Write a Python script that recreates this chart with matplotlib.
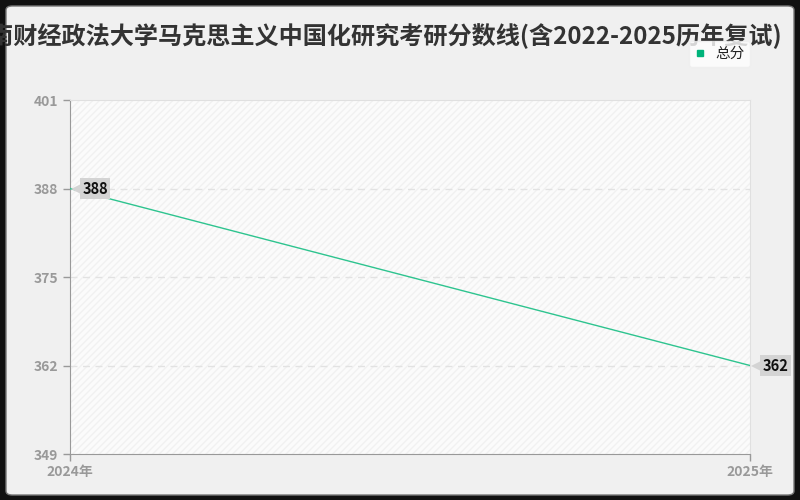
import matplotlib
matplotlib.use('Agg')
import matplotlib.pyplot as plt
from matplotlib.patches import FancyBboxPatch, Rectangle
from matplotlib.lines import Line2D

plt.rcParams['font.family'] = ['Noto Sans CJK SC', 'DejaVu Sans']

title = '中南财经政法大学马克思主义中国化研究考研分数线(含2022-2025历年复试)'
years = ['2024年', '2025年']
scores = [388, 362]
yticks = [349, 362, 375, 388, 401]
series_name = '总分'

W, H = 800, 500
fig = plt.figure(figsize=(8, 5), dpi=100, facecolor='#111111')

# rounded panel behind everything
panel = FancyBboxPatch((6 / W, 5 / H), 788 / W, 489 / H,
                       boxstyle='round,pad=0,rounding_size=0.008',
                       transform=fig.transFigure, facecolor='#f0f0f0',
                       edgecolor='#777777', linewidth=1, zorder=-5)
fig.patches.append(panel)

fig.text(782 / W, 1 - 36 / H, title, ha='right', va='center', fontsize=17.4,
         fontweight='bold', color='#333333', zorder=-1)

ax = fig.add_axes([70 / W, 1 - 454 / H, 680 / W, 354 / H])
ax.set_facecolor('#fbfbfb')
ax.add_patch(Rectangle((0, 0), 1, 1, transform=ax.transAxes, facecolor='none',
                       edgecolor='#f1f1f1', hatch='/////', linewidth=0, zorder=0))

x = list(range(len(years)))
ax.plot(x, scores, color='#2ec48f', linewidth=1, zorder=3)

ax.set_xlim(0, 1)
ax.set_ylim(yticks[0], yticks[-1])
ax.set_yticks(yticks)
ax.set_xticks(x)
ax.set_xticklabels(years)
for yv in yticks[1:-1]:
    ax.axhline(yv, color='#e2e2e2', linestyle=(0, (5, 4)), linewidth=1, zorder=1)

for s in ['left', 'bottom']:
    ax.spines[s].set_color('#999999')
for s in ['top', 'right']:
    ax.spines[s].set_color('#e0e0e0')
ax.tick_params(axis='both', colors='#999999', labelsize=10, length=5, width=1)
ax.tick_params(axis='x', pad=3)
for lbl in ax.get_xticklabels() + ax.get_yticklabels():
    lbl.set_fontweight('bold')
    lbl.set_color('#999999')

# value labels with arrow-shaped boxes
for xi, v in zip(x, scores):
    ax.plot([xi + 0.014], [v], marker='<', markersize=13, color='#d4d4d4',
            clip_on=False, zorder=4, markeredgewidth=0)
    ax.annotate(str(v), (xi, v), xytext=(9, 0), textcoords='offset points',
                ha='left', va='center', fontsize=10.5, fontweight='bold', color='#111111',
                bbox=dict(boxstyle='square,pad=0.15', facecolor='#d4d4d4', edgecolor='none'),
                annotation_clip=False, zorder=5)

leg = ax.legend([Line2D([], [], marker='s', linestyle='none', color='#00b37a', markersize=4)],
                [series_name], loc='lower right', bbox_to_anchor=(1.0, 1 + 33 / 354),
                borderaxespad=0, frameon=True, fontsize=10.5, handlelength=0.8,
                handletextpad=0.6, borderpad=0.4, fancybox=True)
leg.get_frame().set_facecolor('white')
leg.get_frame().set_edgecolor('#eeeeee')
for t in leg.get_texts():
    t.set_color('#222222')

fig.savefig('out.png', dpi=100, facecolor=fig.get_facecolor())
